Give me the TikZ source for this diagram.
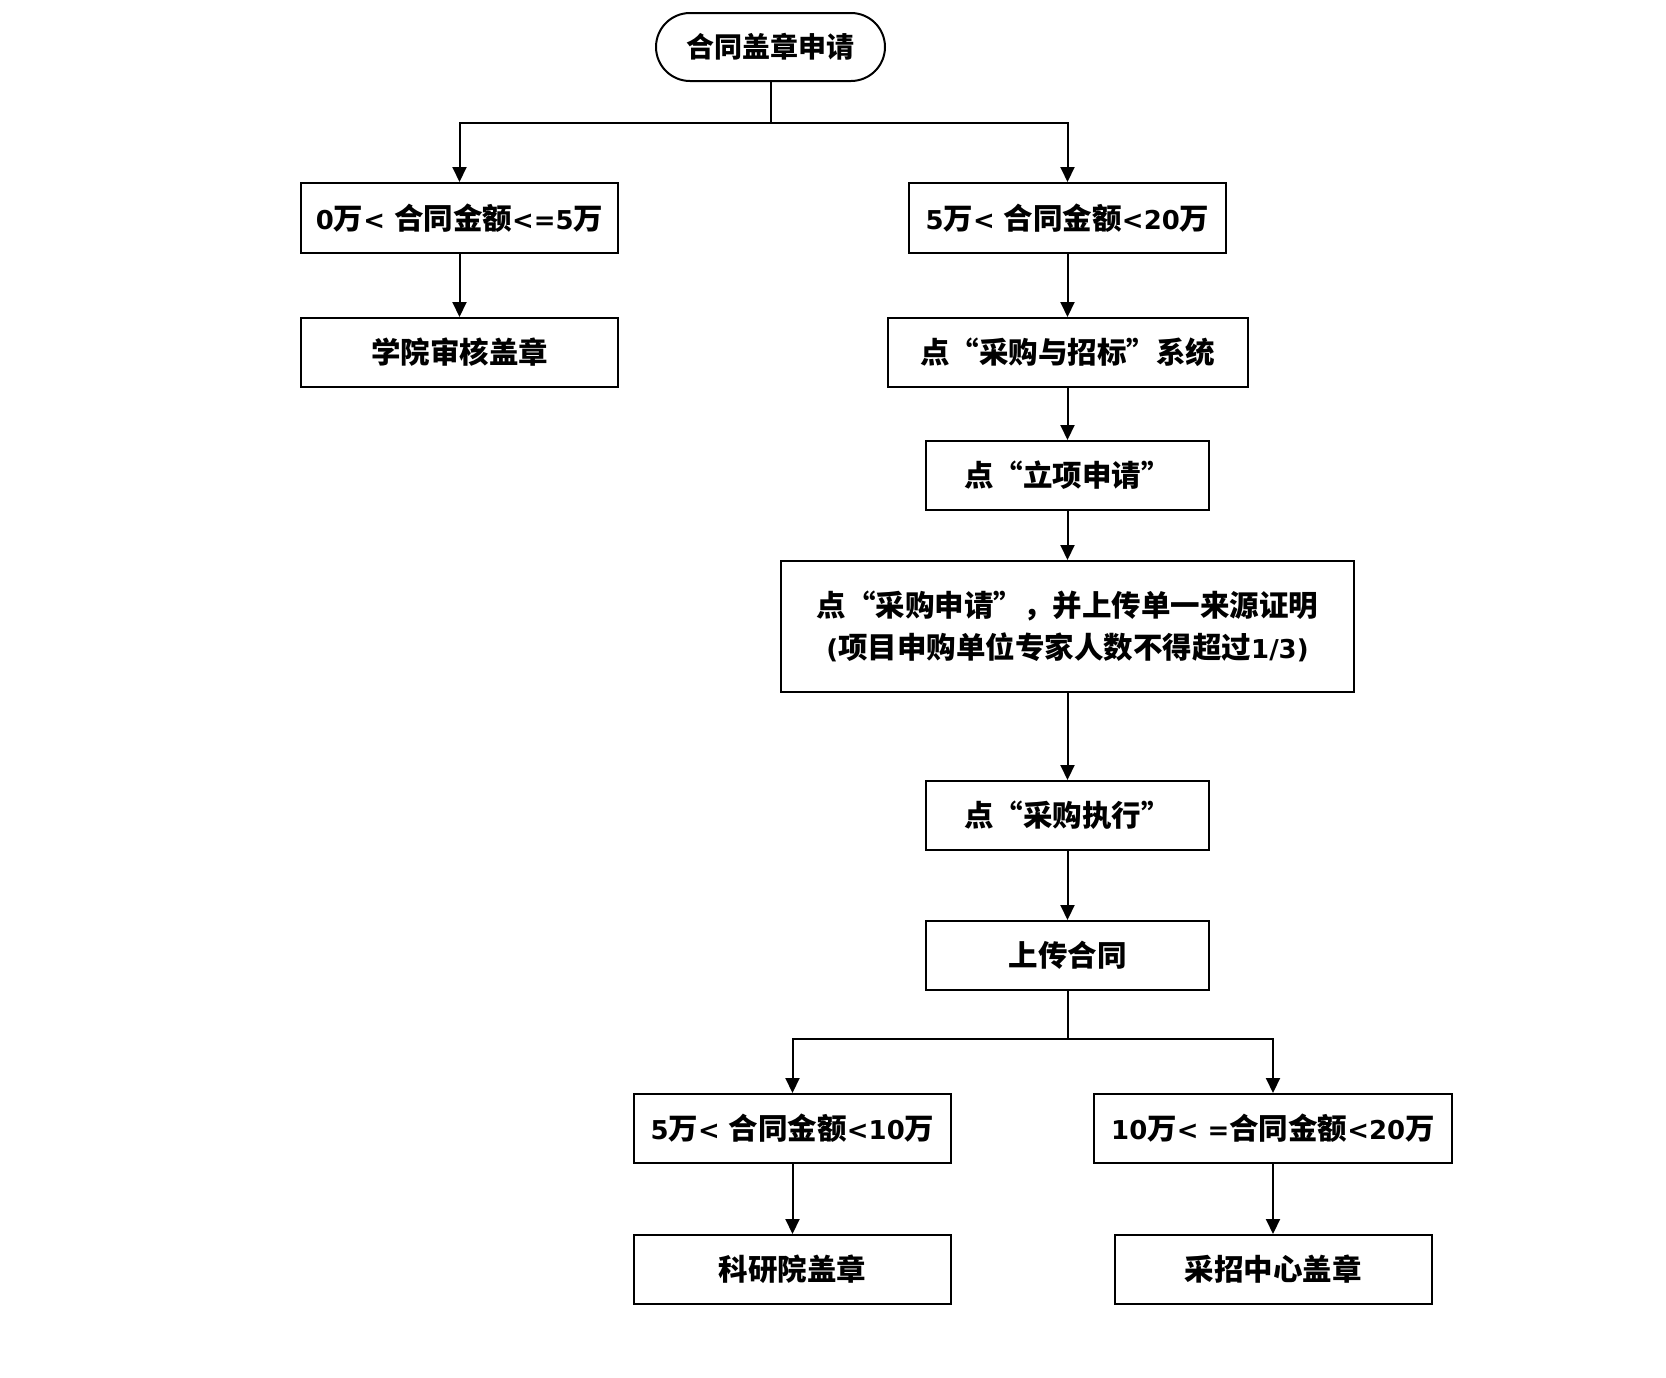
\documentclass[tikz,border=0pt]{standalone}
\usepackage{fontspec}
\setmainfont{Noto Sans CJK SC}
\newfontfamily\latfont{DejaVu Sans}[Scale=0.88]
\newcommand\lat[1]{{\latfont\bfseries #1}}
\usetikzlibrary{arrows.meta}
\begin{document}
\begin{tikzpicture}[x=1pt,y=-1pt,
  box/.style={draw,line width=2pt,minimum height=69pt,inner sep=0pt,align=center,
    font=\fontsize{29.5}{42}\selectfont\bfseries},
  arr/.style={line width=2pt,-{Triangle[length=15pt,width=14pt]}},
  ln/.style={line width=2pt}]
\useasboundingbox (0,0) rectangle (1666,1377);
\node[box,rounded corners=34pt,minimum width=229pt,minimum height=68pt,font=\fontsize{28}{34}\selectfont\bfseries] (s) at (770.5,47) {合同盖章申请};
\node[box,minimum width=317pt,minimum height=70pt] (a1) at (459.5,218) {\lat{0}万\lat{< }合同金额\lat{<=5}万};
\node[box,minimum width=317pt,minimum height=70pt] (a2) at (1067.5,218) {\lat{5}万\lat{< }合同金额\lat{<20}万};
\node[box,minimum width=317pt] (b1) at (459.5,352.5) {学院审核盖章};
\node[box,minimum width=360pt] (b2) at (1067.5,352.5) {点“采购与招标”系统};
\node[box,minimum width=283pt] (c) at (1067.5,475.5) {点“立项申请”};
\node[box,minimum width=573pt,minimum height=131pt] (d) at (1067.5,626.5) {点“采购申请”，并上传单一来源证明\\\lat{(}项目申购单位专家人数不得超过\lat{1/3)}};
\node[box,minimum width=283pt] (e) at (1067.5,815.5) {点“采购执行”};
\node[box,minimum width=283pt] (f) at (1067.5,955.5) {上传合同};
\node[box,minimum width=317pt] (g1) at (792.5,1128.5) {\lat{5}万\lat{< }合同金额\lat{<10}万};
\node[box,minimum width=358pt] (g2) at (1273,1128.5) {\lat{10}万\lat{< =}合同金额\lat{<20}万};
\node[box,minimum width=317pt] (h1) at (792.5,1269.5) {科研院盖章};
\node[box,minimum width=317pt] (h2) at (1273,1269.5) {采招中心盖章};
\coordinate (t) at (770.5,123);
\coordinate (u) at (1067.5,1039);
\draw[ln] (s.south) -- (t);
\draw[arr] (t) -| (a1.north);
\draw[arr] (t) -| (a2.north);
\draw[arr] (a1) -- (b1);
\draw[arr] (a2) -- (b2);
\draw[arr] (b2) -- (c);
\draw[arr] (c) -- (d);
\draw[arr] (d) -- (e);
\draw[arr] (e) -- (f);
\draw[ln] (f.south) -- (u);
\draw[arr] (u) -| (g1.north);
\draw[arr] (u) -| (g2.north);
\draw[arr] (g1) -- (h1);
\draw[arr] (g2) -- (h2);
\end{tikzpicture}
\end{document}
